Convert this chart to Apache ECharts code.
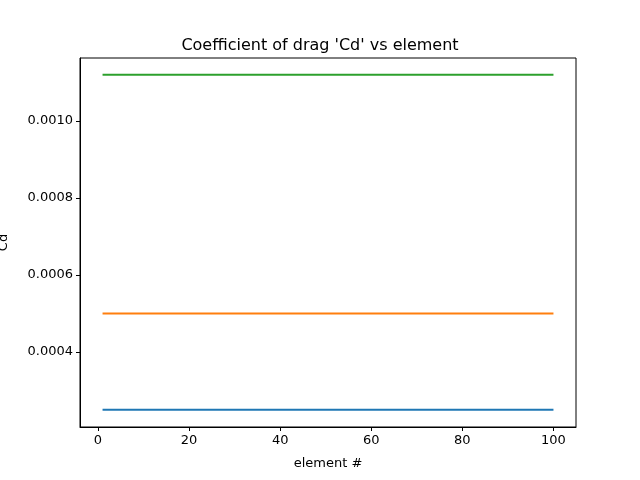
<!DOCTYPE html>
<html><head><meta charset="utf-8">
<script src="https://cdn.jsdelivr.net/npm/echarts@6/dist/echarts.min.js"></script>
<style>html,body{margin:0;padding:0;background:#fff}#c{width:640px;height:480px}</style>
</head><body><div id="c"></div>
<script>
const elements = [1, 100];
const cdBlue = [0.00025, 0.00025];
const cdOrange = [0.0005, 0.0005];
const cdGreen = [0.00112, 0.00112];
const xTicks = [0, 20, 40, 60, 80, 100];
const yTicks = [0.0004, 0.0006, 0.0008, 0.0010];
const colors = ['#1f77b4', '#ff7f0e', '#2ca02c'];
const seriesVals = [cdBlue, cdOrange, cdGreen];
const font = 'DejaVu Sans';
const chart = echarts.init(document.getElementById('c'));
chart.setOption({
  animation: false,
  title: {text: "Coefficient of drag 'Cd' vs element", left: 'center', top: 33,
    textStyle: {fontFamily: font, fontSize: 16, fontWeight: 'normal', color: '#000'}},
  grid: {left: 80, right: 64, top: 58, bottom: 53, show: true, borderColor: '#000', borderWidth: 1,
    containLabel: false, outerBoundsMode: 'none'},
  xAxis: {type: 'value', min: -3.95, max: 104.95, name: 'element #', nameLocation: 'middle', nameGap: 30,
    nameTextStyle: {fontFamily: font, fontSize: 13, color: '#000'},
    splitLine: {show: false}, axisLine: {show: true, onZero: false, lineStyle: {color: '#000'}},
    axisTick: {show: true, length: 4, customValues: xTicks, lineStyle: {color: '#000'}},
    axisLabel: {customValues: xTicks, fontFamily: font, fontSize: 13, color: '#000', margin: 7}},
  yAxis: {type: 'value', min: 0.0002055, max: 0.0011636, name: 'Cd', nameLocation: 'middle', nameGap: 70,
    nameTextStyle: {fontFamily: font, fontSize: 13, color: '#000'},
    splitLine: {show: false}, axisLine: {show: true, onZero: false, lineStyle: {color: '#000'}},
    axisTick: {show: true, length: 4, customValues: yTicks, lineStyle: {color: '#000'}},
    axisLabel: {customValues: yTicks, formatter: v => v.toFixed(4), fontFamily: font, fontSize: 13, color: '#000', margin: 7}},
  series: seriesVals.map((vals, i) => ({
    type: 'line', data: elements.map((x, j) => [x, vals[j]]), showSymbol: false,
    lineStyle: {color: colors[i], width: 2}, itemStyle: {color: colors[i]}
  }))
});
</script></body></html>
